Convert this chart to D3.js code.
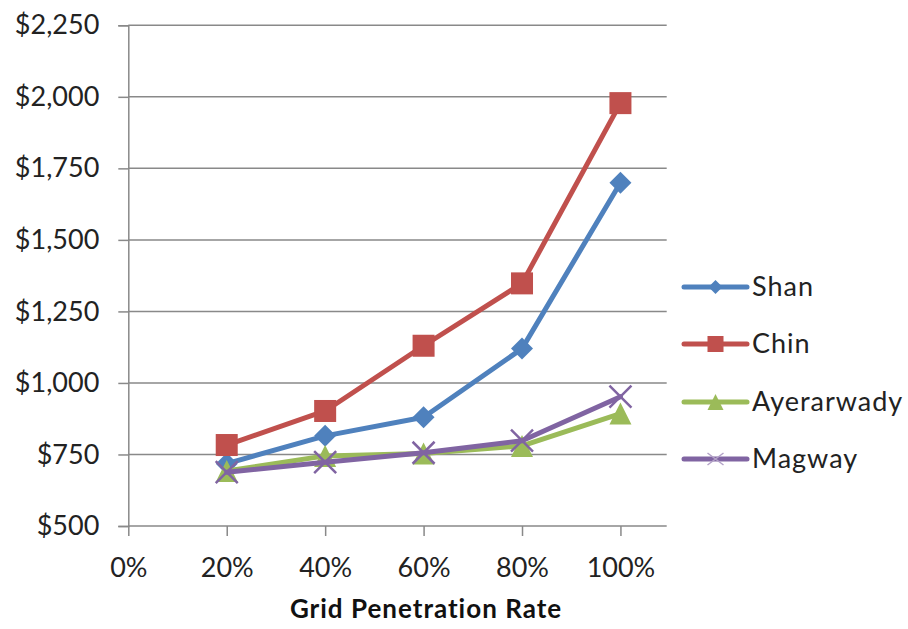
<!DOCTYPE html>
<html><head><meta charset="utf-8">
<script src="https://cdn.jsdelivr.net/npm/d3@7"></script>
<style>body{margin:0;background:#fff}svg{display:block}</style>
</head><body>
<script>
const xValues = [0.2, 0.4, 0.6, 0.8, 1.0];
const xTicks = [0, 0.2, 0.4, 0.6, 0.8, 1.0];
const yTicks = [500, 750, 1000, 1250, 1500, 1750, 2000, 2250];
const seriesNames = ["Shan", "Chin", "Ayerarwady", "Magway"];
const shan = [718, 815, 880, 1120, 1700];
const chin = [783, 902, 1130, 1348, 1978];
const ayerarwady = [692, 745, 753, 780, 893];
const magway = [688, 723, 756, 798, 952];
const colors = ["#4F81BD", "#C0504D", "#9BBB59", "#8064A2"];
const markers = ["diamond", "square", "triangle", "x"];
const xTitle = "Grid Penetration Rate";

const W = 908, H = 629;
const font = "Lato, 'Open Sans', sans-serif";
const svg = d3.select("body").append("svg").attr("width", W).attr("height", H);

const x = d3.scaleLinear().domain([0, 1.094]).range([128.3, 666.7]);
const y = d3.scaleLinear().domain([500, 2250]).range([526, 25.3]);

// gridlines
svg.append("g").selectAll("line").data(yTicks.slice(1)).join("line")
  .attr("x1", x(0)).attr("x2", x(1.094))
  .attr("y1", d => y(d)).attr("y2", d => y(d))
  .attr("stroke", "#898989").attr("stroke-width", 1.5);

// y axis
const yAxis = svg.append("g").attr("transform", `translate(${x(0)},0)`)
  .call(d3.axisLeft(y).tickValues(yTicks).tickSize(10).tickPadding(19)
    .tickFormat(d => "$" + d3.format(",")(d)));
yAxis.select(".domain").attr("stroke", "#898989").attr("stroke-width", 1.5);
yAxis.selectAll(".tick line").attr("stroke", "#898989").attr("stroke-width", 1.5);
yAxis.selectAll("text").attr("font-family", font).attr("font-size", 27).attr("fill", "#222");

// x axis
const xAxis = svg.append("g").attr("transform", `translate(0,${y(500)})`)
  .call(d3.axisBottom(x).tickValues(xTicks).tickSize(10).tickPadding(22)
    .tickFormat(d3.format(".0%")));
xAxis.select(".domain").attr("d", `M${x(0)},0H${x(1.094)}`).attr("stroke", "#898989").attr("stroke-width", 1.5);
xAxis.selectAll(".tick line").attr("stroke", "#898989").attr("stroke-width", 1.5);
xAxis.selectAll("text").attr("font-family", font).attr("font-size", 27).attr("fill", "#222")
  .attr("dy", "0.71em");

svg.append("text").attr("x", 426).attr("y", 618).attr("text-anchor", "middle")
  .attr("font-family", font).attr("font-size", 26).attr("font-weight", "bold").attr("fill", "#111")
  .attr("letter-spacing", 1)
  .text(xTitle);

function drawMarker(g, type, cx, cy, color, s) {
  if (type === "diamond") {
    g.append("path").attr("d", `M${cx},${cy - s}L${cx + s},${cy}L${cx},${cy + s}L${cx - s},${cy}Z`).attr("fill", color);
  } else if (type === "square") {
    g.append("rect").attr("x", cx - s).attr("y", cy - s).attr("width", 2 * s).attr("height", 2 * s).attr("fill", color);
  } else if (type === "triangle") {
    g.append("path").attr("d", `M${cx},${cy - s}L${cx + s},${cy + s}L${cx - s},${cy + s}Z`).attr("fill", color);
  } else {
    g.append("path").attr("d", `M${cx - s},${cy - s}L${cx + s},${cy + s}M${cx + s},${cy - s}L${cx - s},${cy + s}`)
      .attr("stroke", color).attr("stroke-width", 2.5).attr("fill", "none");
  }
}

const allSeries = [shan, chin, ayerarwady, magway];
const markerSize = [11, 11, 11, 11];
const line = d3.line().x(d => x(d[0])).y(d => y(d[1]));
allSeries.forEach((vals, i) => {
  const pts = xValues.map((xv, j) => [xv, vals[j]]);
  const g = svg.append("g");
  g.append("path").attr("d", line(pts)).attr("fill", "none").attr("stroke", colors[i])
    .attr("stroke-width", 5).attr("stroke-linejoin", "round").attr("stroke-linecap", "round");
  pts.forEach(p => drawMarker(g, markers[i], x(p[0]), y(p[1]), colors[i], markerSize[i]));
});

// legend
const legendY = [287, 344, 402, 459];
const legendMarker = [7, 8, 8, 8];
seriesNames.forEach((name, i) => {
  const g = svg.append("g");
  const ly = legendY[i];
  g.append("line").attr("x1", 684).attr("x2", 747).attr("y1", ly).attr("y2", ly)
    .attr("stroke", colors[i]).attr("stroke-width", 5).attr("stroke-linecap", "round");
  if (markers[i] === "x") {
    g.append("path").attr("d", `M${715.5 - 8},${ly - 6}L${715.5 + 8},${ly + 6}M${715.5 + 8},${ly - 6}L${715.5 - 8},${ly + 6}`)
      .attr("stroke", "#B3A2C7").attr("stroke-width", 1.5).attr("fill", "none");
  } else {
    drawMarker(g, markers[i], 715.5, ly, colors[i], legendMarker[i]);
  }
  g.append("text").attr("x", 752).attr("y", ly).attr("dy", "0.35em")
    .attr("font-family", font).attr("font-size", 27).attr("letter-spacing", 1).attr("fill", "#222").text(name);
});
</script>
</body></html>
